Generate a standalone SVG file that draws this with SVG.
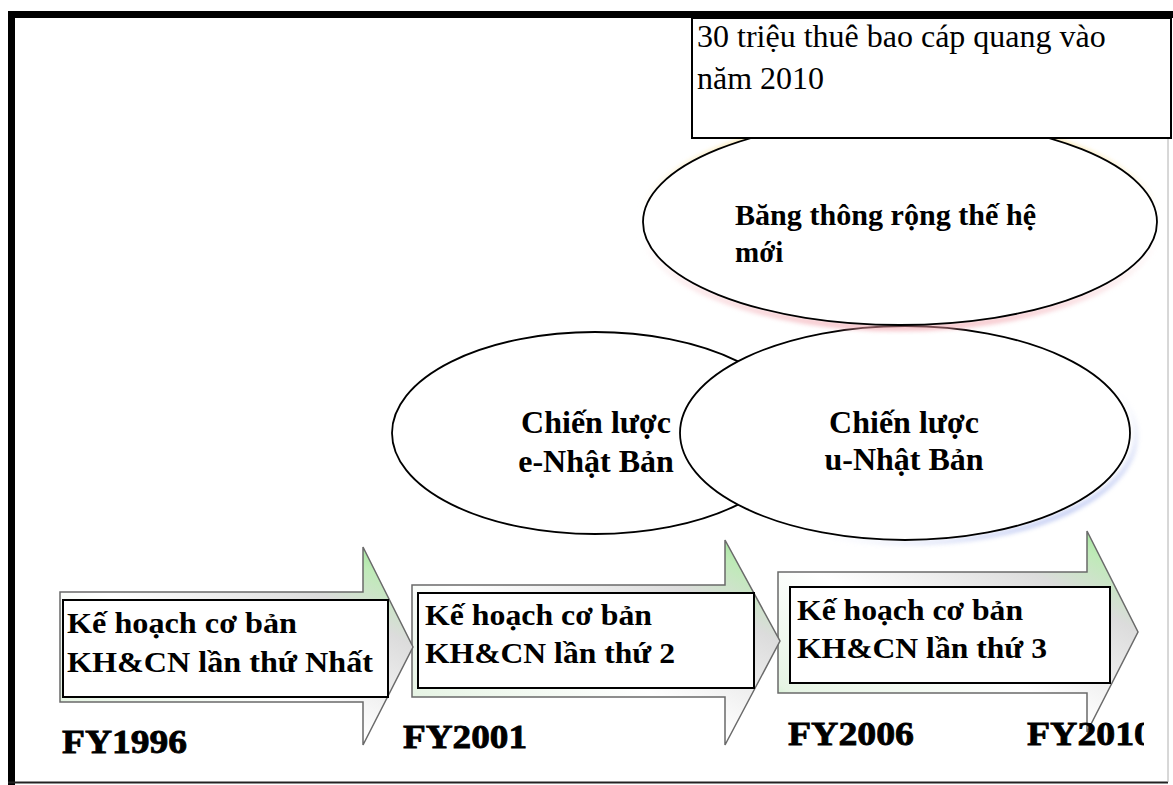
<svg xmlns="http://www.w3.org/2000/svg" width="1173" height="785" viewBox="0 0 1173 785">
  <style>
    .frame { fill: #000; }
    .arrow { fill: url(#arrowFill); stroke: #6a6a6a; stroke-width: 1.5; stroke-linejoin: miter; }
    .box { fill: #fff; stroke: #000; stroke-width: 2; }
    .oval { fill: #fff; stroke: #000; stroke-width: 1.8; }
    .serif { font-family: "Liberation Serif", "Times New Roman", serif; fill: #000; }
    .boxText { font-size: 30px; font-weight: bold; }
    .ovalText { font-size: 32px; font-weight: bold; }
    .year { font-size: 33px; font-weight: bold; stroke: #000; stroke-width: 0.8; }
    .note { font-size: 32px; }
  </style>
  <defs>
    <linearGradient id="arrowFill" x1="0" y1="1" x2="1" y2="0">
      <stop offset="0" stop-color="#9ee69a"/>
      <stop offset="0.12" stop-color="#e6f4e4"/>
      <stop offset="0.45" stop-color="#ffffff"/>
      <stop offset="0.75" stop-color="#dcdcdc"/>
      <stop offset="0.88" stop-color="#bfeab8"/>
      <stop offset="1" stop-color="#86de80"/>
    </linearGradient>
    <linearGradient id="warmHalo" x1="0" y1="0" x2="0" y2="1">
      <stop offset="0" stop-color="#f2c232"/>
      <stop offset="0.5" stop-color="#ffffff" stop-opacity="0"/>
      <stop offset="1" stop-color="#f09aa4"/>
    </linearGradient>
    <linearGradient id="coolHalo" x1="0" y1="0" x2="1" y2="1">
      <stop offset="0" stop-color="#ffffff" stop-opacity="0"/>
      <stop offset="0.6" stop-color="#ffffff" stop-opacity="0"/>
      <stop offset="1" stop-color="#3a5ad8"/>
    </linearGradient>
    <filter id="soft" x="-10%" y="-10%" width="120%" height="120%">
      <feGaussianBlur stdDeviation="2"/>
    </filter>
    <clipPath id="rightCut">
      <rect x="0" y="0" width="1144" height="785"/>
    </clipPath>
  </defs>

  <!-- page frame -->
  <g id="frame">
    <rect class="frame" x="8" y="11" width="1165" height="7"/>
    <rect class="frame" x="8" y="11" width="7" height="774"/>
    <line x1="8" y1="782.5" x2="1168" y2="782.5" stroke="#222" stroke-width="2"/>
    <line x1="1168" y1="18" x2="1168" y2="782" stroke="#b0b0b0" stroke-width="1"/>
  </g>

  <!-- timeline arrows -->
  <g id="connectors">
    <path id="arrow-3" class="arrow" d="M778,572 H1087 V531 L1138,632 L1087,732 V693 H778 Z"/>
    <path id="arrow-2" class="arrow" d="M412,585 H725 V540 L780,641 L725,745 V697 H412 Z"/>
    <path id="arrow-1" class="arrow" d="M60,592 H363 V547 L413,647 L363,745 V702 H60 Z"/>
  </g>

  <!-- plan boxes -->
  <g id="plan-1">
    <rect class="box" x="63" y="600" width="325" height="97"/>
    <text class="serif boxText" x="67" y="633" textLength="230" lengthAdjust="spacingAndGlyphs">Kế hoạch cơ bản</text>
    <text class="serif boxText" x="67" y="672" textLength="306" lengthAdjust="spacingAndGlyphs">KH&amp;CN lần thứ Nhất</text>
  </g>
  <g id="plan-2">
    <rect class="box" x="418" y="593" width="336" height="95"/>
    <text class="serif boxText" x="425" y="625" textLength="227" lengthAdjust="spacingAndGlyphs">Kế hoạch cơ bản</text>
    <text class="serif boxText" x="425" y="663" textLength="250" lengthAdjust="spacingAndGlyphs">KH&amp;CN lần thứ 2</text>
  </g>
  <g id="plan-3">
    <rect class="box" x="790" y="587" width="320" height="96"/>
    <text class="serif boxText" x="797" y="620" textLength="226" lengthAdjust="spacingAndGlyphs">Kế hoạch cơ bản</text>
    <text class="serif boxText" x="797" y="658" textLength="250" lengthAdjust="spacingAndGlyphs">KH&amp;CN lần thứ 3</text>
  </g>

  <!-- fiscal year labels -->
  <g id="years">
    <text class="serif year" x="62" y="753" textLength="125" lengthAdjust="spacingAndGlyphs">FY1996</text>
    <text class="serif year" x="403" y="748" textLength="124" lengthAdjust="spacingAndGlyphs">FY2001</text>
    <text class="serif year" x="788" y="745" textLength="126" lengthAdjust="spacingAndGlyphs">FY2006</text>
    <text class="serif year" x="1027" y="745" textLength="126" lengthAdjust="spacingAndGlyphs" clip-path="url(#rightCut)">FY2010</text>
  </g>

  <!-- strategy ovals -->
  <g id="e-japan">
    <ellipse cx="595" cy="433" rx="203" ry="101" class="oval"/>
    <text class="serif ovalText" x="596" y="433" text-anchor="middle">Chiến lược</text>
    <text class="serif ovalText" x="596" y="472" text-anchor="middle">e-Nhật Bản</text>
  </g>
  <g id="u-japan">
    <ellipse cx="907" cy="435" rx="229" ry="108" fill="none" stroke="url(#coolHalo)" stroke-width="5" filter="url(#soft)" opacity="0.7"/>
    <ellipse cx="905" cy="433" rx="225" ry="107" class="oval"/>
    <text class="serif ovalText" x="904" y="433" text-anchor="middle">Chiến lược</text>
    <text class="serif ovalText" x="904" y="470" text-anchor="middle">u-Nhật Bản</text>
  </g>
  <g id="broadband">
    <ellipse cx="900" cy="224" rx="259" ry="104" fill="none" stroke="url(#warmHalo)" stroke-width="6" filter="url(#soft)" opacity="0.6"/>
    <ellipse cx="900" cy="222" rx="257" ry="103" class="oval"/>
    <text class="serif ovalText" x="735" y="225" textLength="301" lengthAdjust="spacingAndGlyphs" style="font-size:29px">Băng thông rộng thế hệ</text>
    <text class="serif ovalText" x="735" y="262" style="font-size:29px">mới</text>
  </g>

  <!-- target note -->
  <g id="target">
    <rect class="box" x="692" y="18" width="479" height="120"/>
    <text class="serif note" x="697" y="47">30 triệu thuê bao cáp quang vào</text>
    <text class="serif note" x="697" y="89">năm 2010</text>
  </g>
</svg>
